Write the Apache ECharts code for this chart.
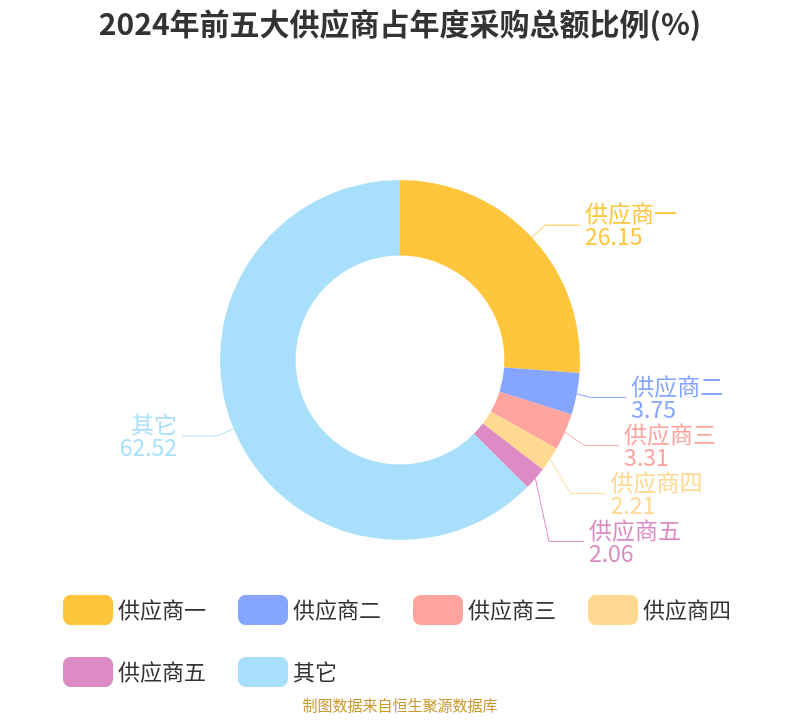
<!DOCTYPE html>
<html><head><meta charset="utf-8">
<script src="https://cdn.jsdelivr.net/npm/echarts@6/dist/echarts.min.js"></script>
<style>html,body{margin:0;padding:0;background:#fff}#c{width:800px;height:720px}</style>
</head><body><div id="c"></div>
<script>
const names = ['供应商一','供应商二','供应商三','供应商四','供应商五','其它'];
const values = [26.15, 3.75, 3.31, 2.21, 2.06, 62.52];
const colors = ['#FFC53D','#85A5FF','#FFA39E','#FFD98F','#DD8BC4','#A8DFFA'];
const chart = echarts.init(document.getElementById('c'));
chart.setOption({
  title: [{text:'2024年前五大供应商占年度采购总额比例(%)', left:'center', top:4,
    textStyle:{fontSize:30, fontWeight:'bold', color:'#333', fontFamily:'Noto Sans CJK SC'}},
    {text:'制图数据来自恒生聚源数据库', left:'center', bottom:2,
    textStyle:{fontSize:15, fontWeight:'normal', color:'#C9982F', fontFamily:'Noto Sans CJK SC'}}],
  color: colors,
  legend: {bottom:28, left:58, width:720, itemWidth:50, itemHeight:30, itemGap:32,
    textStyle:{fontSize:22, color:'#333', fontFamily:'Noto Sans CJK SC'},
    data: names},
  series: [{type:'pie', center:['50%','50%'], radius:['29%','50%'], startAngle:90,
    data: names.map((n,i)=>({name:n, value:values[i]})),
    label:{formatter:'{b}\n{c}', fontSize:23, lineHeight:23, color:'inherit', fontFamily:'Noto Sans CJK SC'},
    labelLine:{length:18, length2:35}
  }]
});
</script></body></html>
